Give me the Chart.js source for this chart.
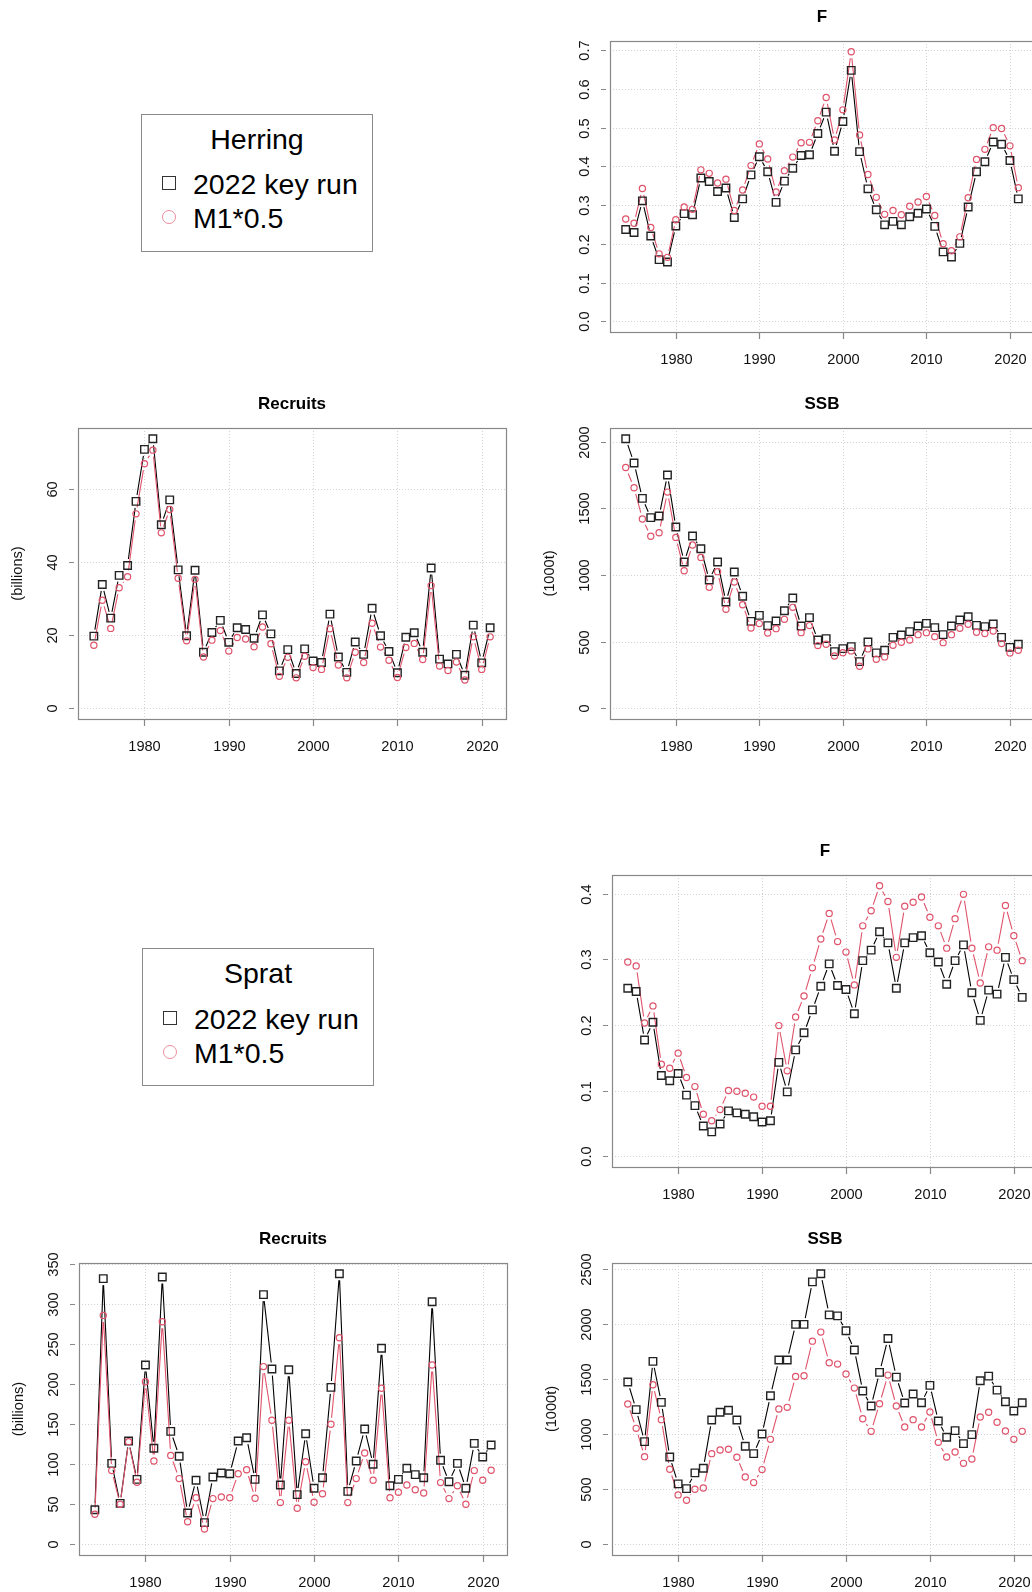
<!DOCTYPE html>
<html>
<head>
<meta charset="utf-8">
<script src="https://cdn.jsdelivr.net/npm/chart.js@4.4.1/dist/chart.umd.min.js"></script>
<style>
html, body { margin: 0; padding: 0; overflow: hidden; background: #fff; }
body { width: 1032px; height: 1592px; position: relative; font-family: 'Liberation Sans', Arial, sans-serif; }
canvas.panel { position: absolute; }
.legend { position: absolute; width: 232px; height: 138px; border: 1px solid #8a8a8a; box-sizing: border-box; }
.legend .ttl, .legend .lbl { position: absolute; font-size: 28.5px; line-height: 40px; height: 40px; white-space: nowrap; color: #000; }
.legend .ttl { left: 0; width: 100%; text-align: center; top: 4px; }
.legend .lbl { left: 51px; }
.legend .sq { position: absolute; left: 20px; width: 12px; height: 12px; border: 1.2px solid #333; }
.legend .ci { position: absolute; left: 20px; width: 12px; height: 12px; border: 1.2px solid #ec8d9d; border-radius: 50%; }
</style>
</head>
<body>

<div class="legend" style="left:141px; top:114px;">
  <div class="ttl">Herring</div>
  <div class="sq" style="top:61px;"></div>
  <div class="lbl" style="top:49px;">2022 key run</div>
  <div class="ci" style="top:95px;"></div>
  <div class="lbl" style="top:83px;">M1*0.5</div>
</div>

<div class="legend" style="left:142px; top:948px;">
  <div class="ttl">Sprat</div>
  <div class="sq" style="top:62px;"></div>
  <div class="lbl" style="top:50px;">2022 key run</div>
  <div class="ci" style="top:96px;"></div>
  <div class="lbl" style="top:84px;">M1*0.5</div>
</div>

<canvas class="panel" id="herringF"></canvas>
<canvas class="panel" id="herringRec"></canvas>
<canvas class="panel" id="herringSSB"></canvas>
<canvas class="panel" id="spratF"></canvas>
<canvas class="panel" id="spratRec"></canvas>
<canvas class="panel" id="spratSSB"></canvas>

<script>
// assessment years
const years = [1974, 1975, 1976, 1977, 1978, 1979, 1980, 1981, 1982, 1983,
               1984, 1985, 1986, 1987, 1988, 1989, 1990, 1991, 1992, 1993,
               1994, 1995, 1996, 1997, 1998, 1999, 2000, 2001, 2002, 2003,
               2004, 2005, 2006, 2007, 2008, 2009, 2010, 2011, 2012, 2013,
               2014, 2015, 2016, 2017, 2018, 2019, 2020, 2021];
const xTicks = [1980, 1990, 2000, 2010, 2020];

// Herring
const herringF_key = [0.237, 0.229, 0.311, 0.220, 0.159, 0.153, 0.246, 0.278, 0.275, 0.370,
                      0.361, 0.335, 0.344, 0.268, 0.316, 0.378, 0.425, 0.386, 0.307, 0.362,
                      0.395, 0.428, 0.430, 0.485, 0.540, 0.439, 0.516, 0.648, 0.438, 0.342,
                      0.288, 0.249, 0.258, 0.249, 0.270, 0.279, 0.290, 0.245, 0.179, 0.166,
                      0.201, 0.295, 0.386, 0.412, 0.463, 0.457, 0.415, 0.316];
const herringF_m1 = [0.264, 0.253, 0.343, 0.242, 0.174, 0.165, 0.262, 0.295, 0.289, 0.391,
                     0.382, 0.357, 0.367, 0.286, 0.339, 0.402, 0.458, 0.419, 0.334, 0.389,
                     0.424, 0.461, 0.462, 0.518, 0.578, 0.468, 0.546, 0.696, 0.481, 0.379,
                     0.320, 0.276, 0.286, 0.275, 0.297, 0.308, 0.322, 0.273, 0.200, 0.182,
                     0.218, 0.319, 0.418, 0.444, 0.500, 0.498, 0.453, 0.345];
const herringRec_key = [19.7, 33.8, 24.6, 36.3, 39.0, 56.5, 70.7, 73.6, 50.1, 56.9,
                        37.8, 19.8, 37.7, 15.3, 20.7, 24.0, 18.0, 22.0, 21.5, 19.1,
                        25.5, 20.3, 10.2, 16.0, 9.5, 16.2, 12.9, 12.5, 25.7, 14.0,
                        9.8, 18.1, 14.7, 27.3, 19.8, 15.5, 9.7, 19.4, 20.6, 15.3,
                        38.3, 13.4, 12.1, 14.7, 9.0, 22.7, 12.4, 22.0];
const herringRec_m1 = [17.2, 29.5, 21.8, 32.9, 35.9, 53.1, 66.8, 70.5, 47.9, 54.3,
                       35.5, 18.4, 35.2, 14.0, 18.6, 21.2, 15.6, 19.3, 18.9, 16.8,
                       22.2, 17.6, 8.7, 13.9, 8.3, 14.2, 11.1, 10.6, 21.7, 11.8,
                       8.3, 15.3, 12.5, 23.2, 16.7, 13.1, 8.4, 16.6, 17.7, 13.3,
                       33.5, 11.5, 10.3, 12.6, 7.7, 19.5, 10.6, 19.5];
const herringSSB_key = [2022, 1840, 1575, 1430, 1442, 1750, 1360, 1097, 1292, 1197,
                        962, 1097, 797, 1022, 840, 652, 697, 620, 655, 732,
                        827, 617, 680, 512, 522, 425, 447, 462, 350, 497,
                        415, 435, 532, 550, 575, 617, 637, 605, 552, 617,
                        662, 687, 622, 612, 632, 532, 457, 480];
const herringSSB_m1 = [1807, 1655, 1420, 1290, 1317, 1622, 1282, 1032, 1225, 1132,
                       907, 1025, 742, 947, 777, 602, 635, 565, 597, 667,
                       757, 567, 620, 470, 480, 392, 417, 430, 315, 445,
                       367, 385, 472, 495, 512, 552, 567, 537, 492, 552,
                       600, 630, 570, 560, 580, 485, 415, 435];

// Sprat
const spratF_key = [0.256, 0.251, 0.177, 0.204, 0.123, 0.115, 0.126, 0.093, 0.077, 0.046,
                    0.037, 0.049, 0.069, 0.066, 0.064, 0.060, 0.052, 0.054, 0.143, 0.098,
                    0.162, 0.188, 0.223, 0.259, 0.293, 0.260, 0.254, 0.217, 0.298, 0.314,
                    0.342, 0.325, 0.256, 0.325, 0.333, 0.336, 0.310, 0.296, 0.262, 0.298,
                    0.322, 0.249, 0.207, 0.253, 0.247, 0.303, 0.269, 0.242];
const spratF_m1 = [0.296, 0.290, 0.203, 0.229, 0.140, 0.134, 0.157, 0.120, 0.106, 0.064,
                   0.054, 0.071, 0.100, 0.099, 0.096, 0.090, 0.076, 0.076, 0.199, 0.130,
                   0.212, 0.244, 0.287, 0.331, 0.370, 0.327, 0.311, 0.261, 0.351, 0.374,
                   0.412, 0.388, 0.303, 0.381, 0.387, 0.395, 0.364, 0.351, 0.317, 0.362,
                   0.399, 0.317, 0.264, 0.319, 0.314, 0.382, 0.336, 0.298];
const spratRec_key = [43, 332, 101, 51, 129, 81, 224, 120, 334, 141,
                      110, 39, 80, 27, 84, 89, 88, 129, 133, 81,
                      312, 219, 74, 218, 62, 138, 70, 83, 196, 338,
                      66, 104, 144, 100, 245, 73, 81, 95, 87, 83,
                      303, 105, 78, 101, 70, 126, 109, 124];
const spratRec_m1 = [37.5, 286, 92, 50, 128, 77.5, 203, 104, 278, 111,
                     82, 28, 58, 19, 57, 59, 58, 88, 93, 57.5,
                     222, 155, 52, 155, 45, 103, 52.5, 63, 150, 258,
                     52, 82, 114, 80, 195, 58, 65, 74, 68, 64,
                     224, 77, 57, 73, 50, 92, 80, 92.5];
const spratSSB_key = [1474, 1223, 932, 1662, 1289, 793, 548, 505, 648, 690,
                      1129, 1199, 1217, 1129, 890, 823, 1002, 1350, 1674, 1674,
                      1998, 1998, 2385, 2458, 2085, 2076, 1940, 1765, 1392, 1256,
                      1562, 1870, 1519, 1283, 1365, 1286, 1444, 1120, 972, 1032,
                      914, 996, 1486, 1528, 1401, 1295, 1211, 1286];
const spratSSB_m1 = [1274, 1053, 796, 1450, 1132, 681, 448, 400, 499, 511,
                     823, 856, 863, 790, 611, 560, 678, 953, 1229, 1244,
                     1525, 1531, 1846, 1928, 1650, 1637, 1547, 1419, 1141, 1026,
                     1277, 1537, 1256, 1065, 1132, 1065, 1202, 926, 793, 838,
                     735, 775, 1156, 1199, 1108, 1029, 953, 1026];

const F_TICKS_H = [0, 0.1, 0.2, 0.3, 0.4, 0.5, 0.6, 0.7];
const F_TICKS_S = [0, 0.1, 0.2, 0.3, 0.4];
const REC_TICKS_H = [0, 20, 40, 60];
const REC_TICKS_S = [0, 50, 100, 150, 200, 250, 300, 350];
const SSB_TICKS_H = [0, 500, 1000, 1500, 2000];
const SSB_TICKS_S = [0, 500, 1000, 1500, 2000, 2500];

const KEY_COL = '#000000';
const M1_COL = '#DF536B';
const FONT = "'Liberation Sans', Arial, sans-serif";
const GAP = 6.5;        // space left around each point by the connecting line
const PAD = {left: 75, top: 40, right: 10, bottom: 45};

// base-graphics look: dotted grid, grey box, outside ticks, rotated y labels
const baseStyle = {
    id: 'baseStyle',
    beforeDatasetsDraw(chart, args, opts) {
        const {ctx, chartArea: a, scales: {x, y}} = chart;
        ctx.save();
        ctx.strokeStyle = '#d3d3d3';
        ctx.lineWidth = 1;
        ctx.setLineDash([1, 2]);
        ctx.beginPath();
        xTicks.forEach(v => {
            const px = Math.round(x.getPixelForValue(v)) + 0.5;
            ctx.moveTo(px, a.top);
            ctx.lineTo(px, a.bottom);
        });
        opts.yTicks.forEach(v => {
            const py = Math.round(y.getPixelForValue(v)) + 0.5;
            ctx.moveTo(a.left, py);
            ctx.lineTo(a.right, py);
        });
        ctx.stroke();
        ctx.setLineDash([]);

        // connecting lines that stop short of the points
        chart.data.datasets.forEach((ds, i) => {
            const pts = chart.getDatasetMeta(i).data;
            ctx.strokeStyle = ds.borderColor;
            ctx.lineWidth = 1.1;
            ctx.beginPath();
            for (let k = 1; k < pts.length; k++) {
                const p0 = pts[k - 1], p1 = pts[k];
                const dx = p1.x - p0.x, dy = p1.y - p0.y;
                const len = Math.hypot(dx, dy);
                if (len <= 2 * GAP) continue;
                const f = GAP / len;
                ctx.moveTo(p0.x + f * dx, p0.y + f * dy);
                ctx.lineTo(p1.x - f * dx, p1.y - f * dy);
            }
            ctx.stroke();
        });
        ctx.restore();
    },
    afterDraw(chart, args, opts) {
        const {ctx, chartArea: a, scales: {x, y}} = chart;
        ctx.save();
        ctx.strokeStyle = '#888888';
        ctx.lineWidth = 1.2;
        ctx.strokeRect(a.left + 0.5, a.top + 0.5, a.right - a.left, a.bottom - a.top);

        ctx.fillStyle = '#111';
        ctx.font = '14.6px ' + FONT;
        ctx.textAlign = 'center';
        ctx.textBaseline = 'middle';
        ctx.beginPath();
        xTicks.forEach(v => {
            const px = Math.round(x.getPixelForValue(v)) + 0.5;
            ctx.moveTo(px, a.bottom + 1);
            ctx.lineTo(px, a.bottom + 7);
            ctx.fillText(String(v), px, a.bottom + 27.5);
        });
        opts.yTicks.forEach(v => {
            const py = Math.round(y.getPixelForValue(v)) + 0.5;
            ctx.moveTo(a.left - 9, py);
            ctx.lineTo(a.left - 4, py);
            ctx.save();
            ctx.translate(a.left - 25.5, py);
            ctx.rotate(-Math.PI / 2);
            ctx.fillText(v.toFixed(opts.digits), 0, 0);
            ctx.restore();
        });
        ctx.stroke();

        if (opts.yTitle) {
            ctx.save();
            ctx.translate(a.left - 60, (a.top + a.bottom) / 2);
            ctx.rotate(-Math.PI / 2);
            ctx.fillText(opts.yTitle, 0, 0);
            ctx.restore();
        }
        ctx.fillStyle = '#000';
        ctx.font = 'bold 17px ' + FONT;
        ctx.fillText(opts.title, (a.left + a.right) / 2, a.top - 24);
        ctx.restore();
    }
};

function makePanel(id, box, key, m1, yTicks, digits, title, yTitle) {
    const canvas = document.getElementById(id);
    const w = box.right - box.left + PAD.left + PAD.right;
    const h = box.bottom - box.top + PAD.top + PAD.bottom;
    canvas.width = w;
    canvas.height = h;
    canvas.style.width = w + 'px';
    canvas.style.height = h + 'px';
    canvas.style.left = (box.left - PAD.left) + 'px';
    canvas.style.top = (box.top - PAD.top) + 'px';

    // axis limits padded by 4% like the default plot range
    const yMax = Math.max(...key, ...m1);
    const xSpan = years[years.length - 1] - years[0];

    new Chart(canvas.getContext('2d'), {
        type: 'line',
        data: {
            datasets: [{
                label: '2022 key run',
                data: years.map((yr, i) => ({x: yr, y: key[i]})),
                showLine: false,
                borderColor: KEY_COL,
                pointStyle: 'rect',
                pointRadius: 5.3,
                pointBorderWidth: 1.4,
                pointBorderColor: '#222',
                pointBackgroundColor: 'rgba(0,0,0,0)',
                order: 1
            }, {
                label: 'M1*0.5',
                data: years.map((yr, i) => ({x: yr, y: m1[i]})),
                showLine: false,
                borderColor: M1_COL,
                pointStyle: 'circle',
                pointRadius: 3.1,
                pointBorderWidth: 1.2,
                pointBorderColor: M1_COL,
                pointBackgroundColor: 'rgba(0,0,0,0)',
                order: 0
            }]
        },
        options: {
            responsive: false,
            animation: false,
            devicePixelRatio: 1,
            events: [],
            layout: {padding: PAD},
            scales: {
                x: {type: 'linear', display: false,
                    min: years[0] - 0.04 * xSpan, max: years[years.length - 1] + 0.04 * xSpan},
                y: {type: 'linear', display: false, min: -0.04 * yMax, max: 1.04 * yMax}
            },
            plugins: {
                legend: {display: false},
                tooltip: {enabled: false},
                baseStyle: {yTicks: yTicks, digits: digits, title: title, yTitle: yTitle}
            }
        },
        plugins: [baseStyle]
    });
}

makePanel('herringF', {left: 610, top: 41, right: 1034, bottom: 332},
          herringF_key, herringF_m1, F_TICKS_H, 1, 'F', null);
makePanel('herringRec', {left: 78, top: 428, right: 506, bottom: 719},
          herringRec_key, herringRec_m1, REC_TICKS_H, 0, 'Recruits', '(billions)');
makePanel('herringSSB', {left: 610, top: 428, right: 1034, bottom: 719},
          herringSSB_key, herringSSB_m1, SSB_TICKS_H, 0, 'SSB', '(1000t)');
makePanel('spratF', {left: 612, top: 875, right: 1038, bottom: 1167},
          spratF_key, spratF_m1, F_TICKS_S, 1, 'F', null);
makePanel('spratRec', {left: 79, top: 1263, right: 507, bottom: 1555},
          spratRec_key, spratRec_m1, REC_TICKS_S, 0, 'Recruits', '(billions)');
makePanel('spratSSB', {left: 612, top: 1263, right: 1038, bottom: 1555},
          spratSSB_key, spratSSB_m1, SSB_TICKS_S, 0, 'SSB', '(1000t)');
</script>
</body>
</html>
